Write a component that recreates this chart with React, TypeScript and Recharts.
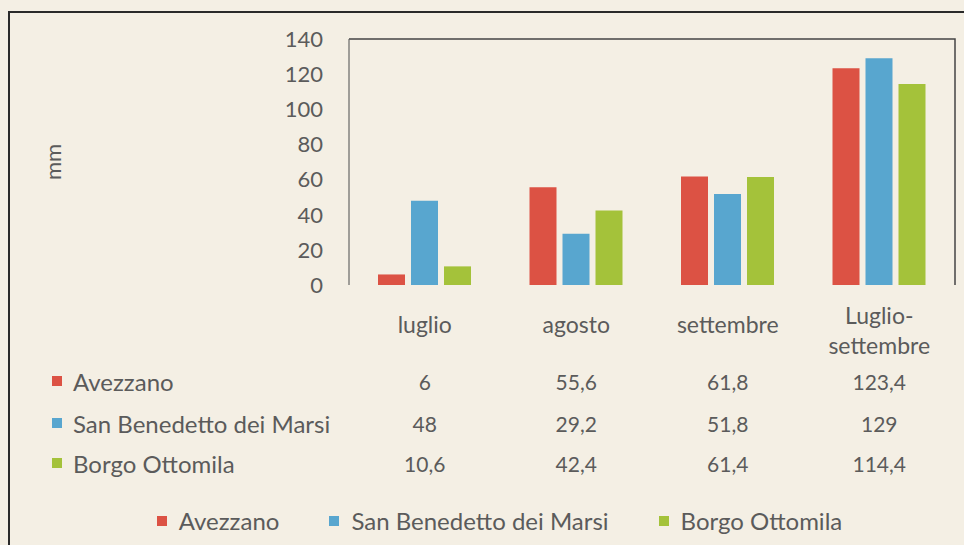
import React from "react";
import { BarChart, Bar, XAxis, YAxis, Legend, Label, ReferenceArea } from "recharts";

const categories = ["luglio", "agosto", "settembre", "Luglio-settembre"];
const avezzano = [6, 55.6, 61.8, 123.4];
const sanBenedetto = [48, 29.2, 51.8, 129];
const borgoOttomila = [10.6, 42.4, 61.4, 114.4];
const seriesNames = ["Avezzano", "San Benedetto dei Marsi", "Borgo Ottomila"];
const seriesColors = ["#dc5244", "#58a6cf", "#a4c23a"];
const yTicks = [0, 20, 40, 60, 80, 100, 120, 140];

const seriesValues = [avezzano, sanBenedetto, borgoOttomila];
const data = categories.map((c, i) => ({
  name: c,
  a: avezzano[i],
  s: sanBenedetto[i],
  b: borgoOttomila[i],
}));

const FONT = "Lato, 'Open Sans', sans-serif";
const TEXT = "#5b5b5b";
const fmt = (v: number) => String(v).replace(".", ",");

// x tick draws the category header and the data-table column under it
const TableTick = (props: any) => {
  const { x, y, payload } = props;
  const idx = payload.index;
  const label: string = payload.value;
  const parts = label.includes("-") ? [label.split("-")[0] + "-", label.split("-")[1]] : [label];
  const rowY = [96, 138, 178];
  return (
    <g style={{ fontFamily: FONT }} fill={TEXT}>
      {parts.length === 1 ? (
        <text x={x} y={y + 39} textAnchor="middle" dominantBaseline="central" fill={TEXT} fontSize={23}>
          {parts[0]}
        </text>
      ) : (
        parts.map((p, k) => (
          <text key={k} x={x} y={y + 30 + k * 30} textAnchor="middle" dominantBaseline="central" fill={TEXT} fontSize={23}>
            {p}
          </text>
        ))
      )}
      {seriesValues.map((vals, r) => (
        <text key={r} x={x} y={y + rowY[r]} textAnchor="middle" dominantBaseline="central" fill={TEXT} fontSize={21}>
          {fmt(vals[idx])}
        </text>
      ))}
      {idx === 0 &&
        seriesNames.map((n, r) => (
          <g key={n}>
            <rect x={52} y={y + rowY[r] - 5} width={10} height={10} fill={seriesColors[r]} />
            <text x={73} y={y + rowY[r]} dominantBaseline="central" fill={TEXT} fontSize={24}>
              {n}
            </text>
          </g>
        ))}
    </g>
  );
};

const LegendContent = () => (
  <div
    style={{
      display: "flex",
      justifyContent: "center",
      gap: 50,
      fontFamily: FONT,
      fontSize: 24,
      color: TEXT,
      paddingLeft: 44,
    }}
  >
    {seriesNames.map((n, i) => (
      <span key={n} style={{ display: "flex", alignItems: "center" }}>
        <span style={{ width: 10, height: 10, background: seriesColors[i], marginRight: 12 }} />
        {n}
      </span>
    ))}
  </div>
);

// top and right edges of the plot-area frame
const FrameShape = (props: any) => {
  const { x, y, width, height } = props;
  return (
    <path
      d={`M${x},${y} L${x + width},${y} L${x + width},${y + height}`}
      fill="none"
      stroke="#444"
      strokeWidth={1.5}
    />
  );
};

export default function App() {
  return (
    <div
      style={{
        position: "absolute",
        left: 0,
        top: 0,
        width: 964,
        height: 545,
        background: "#f4efe4",
        overflow: "hidden",
      }}
    >
      <div
        style={{
          position: "absolute",
          left: 8,
          top: 11,
          width: 1000,
          height: 600,
          border: "2px solid #2a2a2a",
        }}
      />
      <BarChart
        width={964}
        height={545}
        data={data}
        margin={{ top: 39, right: 9, left: 0, bottom: 10 }}
        barSize={27}
        barGap={6}
        style={{ position: "absolute", left: 0, top: 0 }}
      >
        <XAxis
          dataKey="name"
          height={221}
          axisLine={false}
          tickLine={false}
          tickSize={0}
          tickMargin={0}
          interval={0}
          tick={<TableTick />}
        />
        <YAxis
          width={349}
          domain={[0, 140]}
          ticks={yTicks}
          interval={0}
          tickLine={false}
          tickSize={0}
          tickMargin={26}
          axisLine={{ stroke: "#666", strokeWidth: 1.2 }}
          tick={{ fill: TEXT, fontSize: 22, fontFamily: FONT }}
        >
          <Label
            content={(p: any) => {
              const vb = p.viewBox;
              const cy = vb.y + vb.height / 2;
              return (
                <text
                  x={52}
                  y={cy}
                  transform={`rotate(-90, 52, ${cy})`}
                  textAnchor="middle"
                  dominantBaseline="central"
                  fill={TEXT}
                  style={{ fontFamily: FONT, fontSize: 22 }}
                >
                  mm
                </text>
              );
            }}
          />
        </YAxis>
        <ReferenceArea y1={0} y2={140} ifOverflow="visible" shape={<FrameShape />} />
        <Legend verticalAlign="bottom" content={<LegendContent />} />
        <Bar dataKey="a" name={seriesNames[0]} fill={seriesColors[0]} isAnimationActive={false} />
        <Bar dataKey="s" name={seriesNames[1]} fill={seriesColors[1]} isAnimationActive={false} />
        <Bar dataKey="b" name={seriesNames[2]} fill={seriesColors[2]} isAnimationActive={false} />
      </BarChart>
    </div>
  );
}
